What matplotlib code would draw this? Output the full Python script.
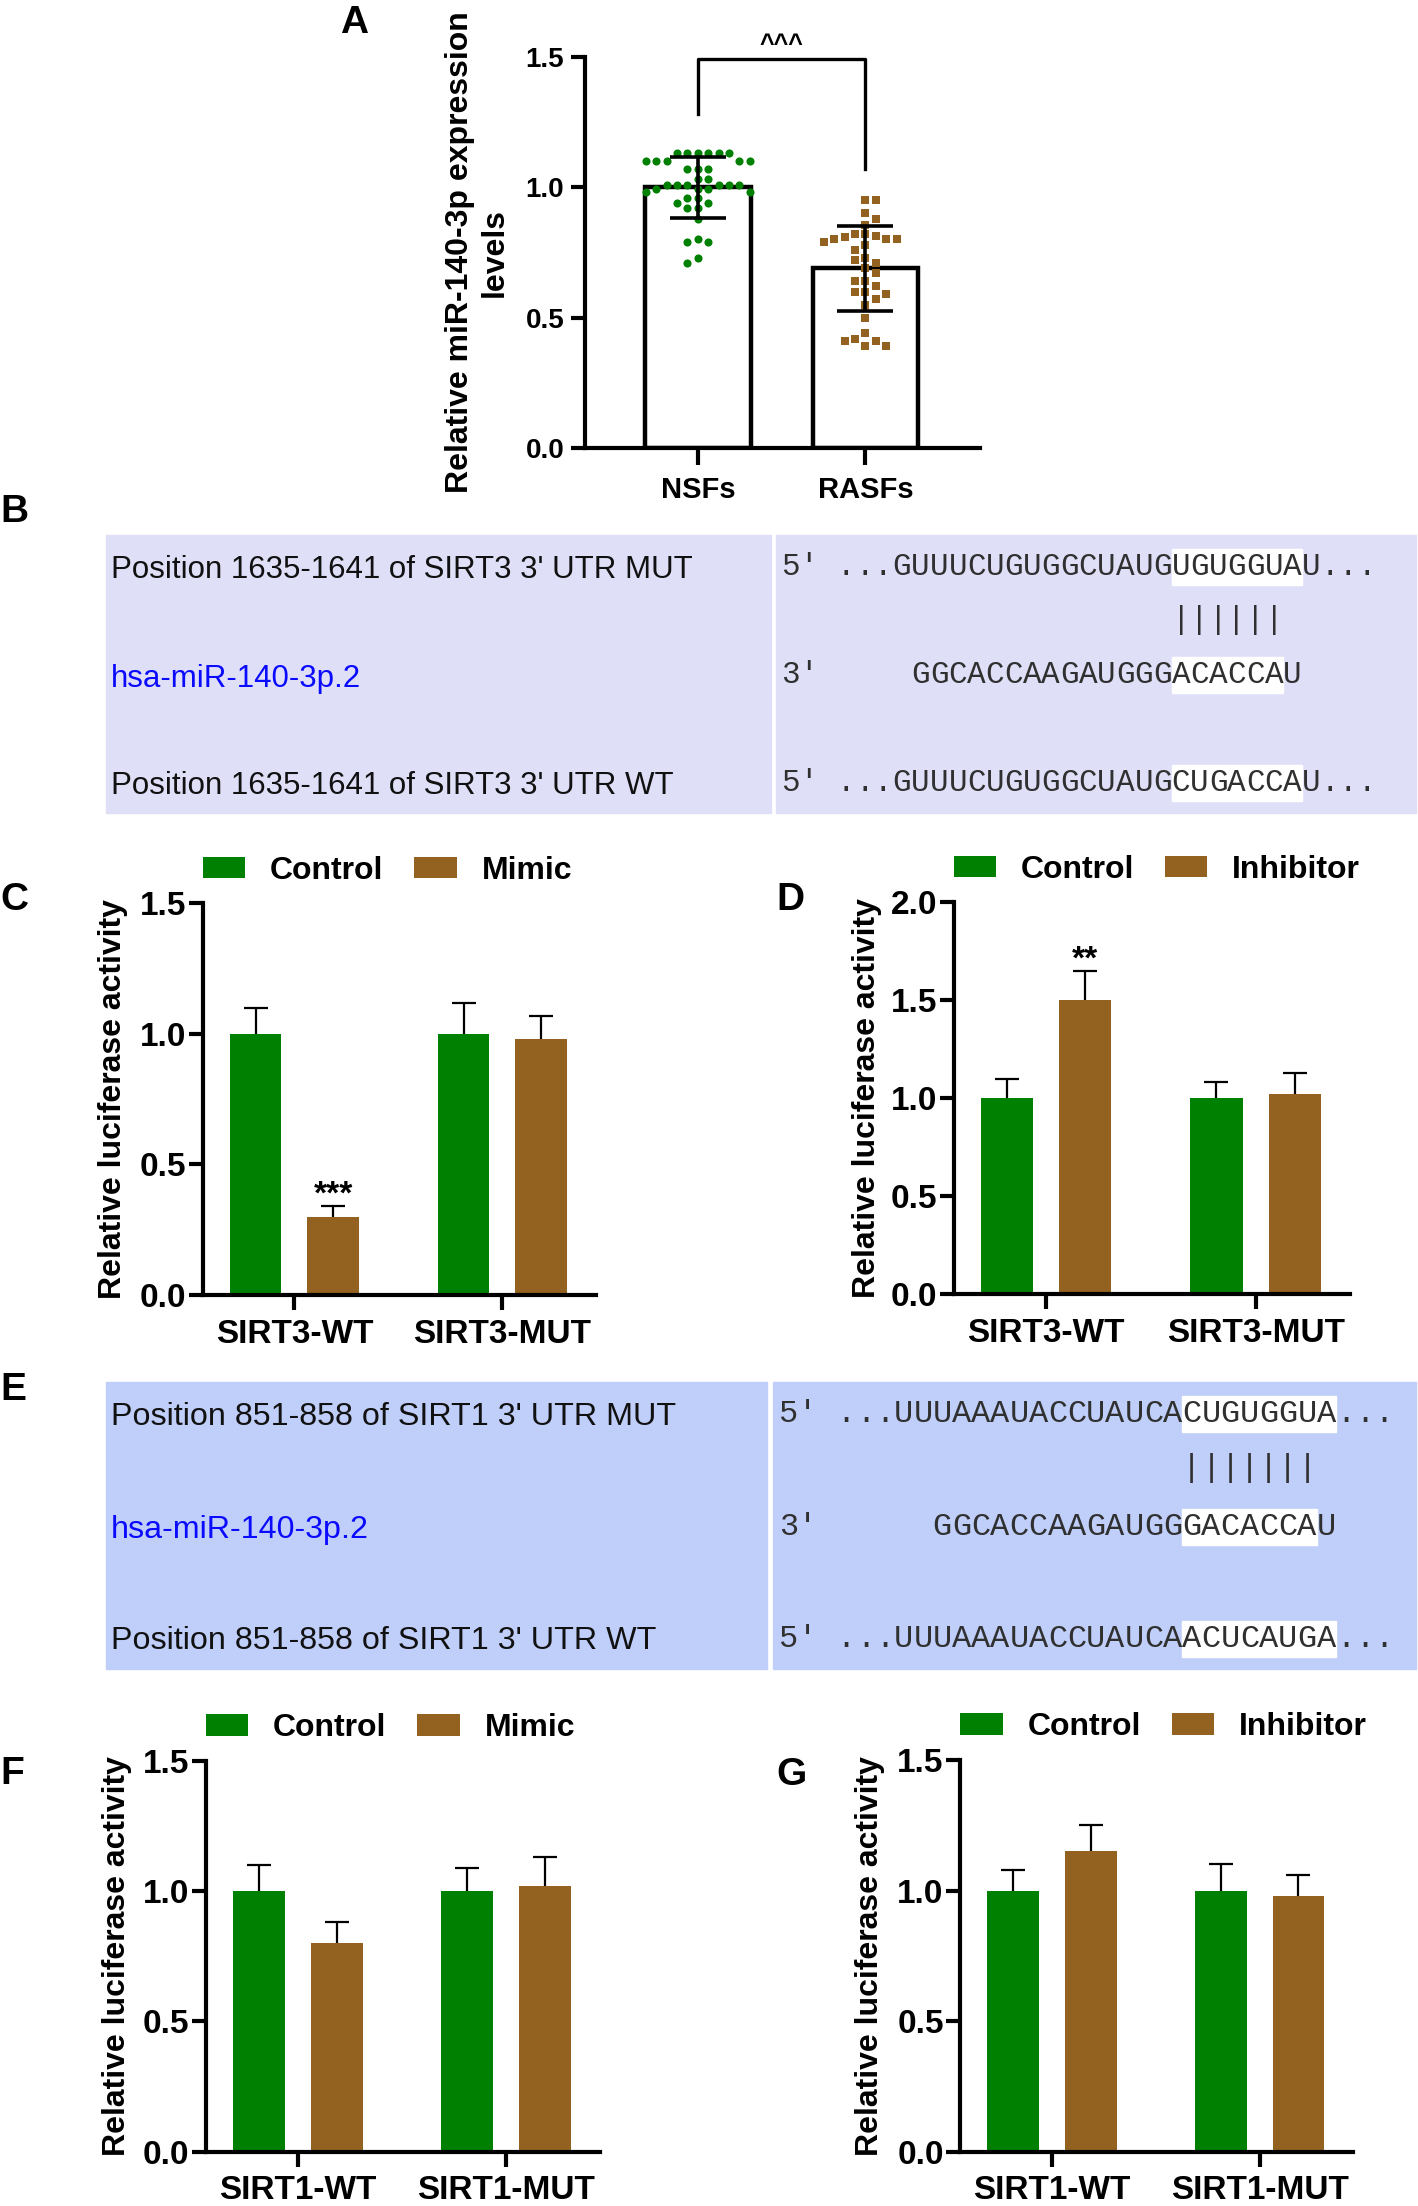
import numpy as np
import matplotlib
matplotlib.use("Agg")
import matplotlib.pyplot as plt
from matplotlib.patches import Rectangle, Patch
from matplotlib.ticker import FormatStrFormatter, MultipleLocator

plt.rcParams["font.family"] = ["Liberation Sans", "DejaVu Sans"]
plt.rcParams["font.weight"] = "bold"
plt.rcParams["axes.labelweight"] = "bold"

W, H = 1418, 2206
GREEN = "#008000"
BROWN = "#946220"

# ---------------- data ----------------
# A: miR-140-3p expression
a_groups = ["NSFs", "RASFs"]
a_mean = [1.00, 0.69]
a_sd = [0.117, 0.163]
nsf_vals = [1.13, 1.13, 1.13, 1.13, 1.13, 1.13, 1.10, 1.10, 1.10, 1.10, 1.10,
            1.07, 1.07, 1.07, 1.03, 1.03, 1.01, 1.01, 1.01, 1.01, 1.01, 1.01,
            0.995, 0.995, 0.995, 0.98, 0.98, 0.96, 0.96, 0.94, 0.94, 0.92, 0.92,
            0.88, 0.80, 0.79, 0.79, 0.73, 0.71]
rasf_vals = [0.95, 0.95, 0.90, 0.88, 0.855, 0.82, 0.82, 0.815, 0.81, 0.80, 0.80,
             0.80, 0.79, 0.78, 0.76, 0.73, 0.72, 0.71, 0.69, 0.67, 0.64, 0.64,
             0.62, 0.60, 0.60, 0.59, 0.57, 0.55, 0.50, 0.44, 0.42, 0.41, 0.41,
             0.39, 0.39]
a_bracket = [1.49, 1.28, 1.07]   # top, left leg end, right leg end
a_sig = "^^^"

# C / D: SIRT3 luciferase
sirt3_groups = ["SIRT3-WT", "SIRT3-MUT"]
c_ctrl, c_ctrl_err = [1.00, 1.00], [0.10, 0.12]
c_mimic, c_mimic_err = [0.30, 0.98], [0.04, 0.09]
c_stars = ["***", ""]
d_ctrl, d_ctrl_err = [1.00, 1.00], [0.10, 0.08]
d_inh, d_inh_err = [1.50, 1.02], [0.15, 0.11]
d_stars = ["**", ""]

# F / G: SIRT1 luciferase
sirt1_groups = ["SIRT1-WT", "SIRT1-MUT"]
f_ctrl, f_ctrl_err = [1.00, 1.00], [0.10, 0.09]
f_mimic, f_mimic_err = [0.80, 1.02], [0.08, 0.11]
g_ctrl, g_ctrl_err = [1.00, 1.00], [0.08, 0.10]
g_inh, g_inh_err = [1.15, 0.98], [0.10, 0.08]
no_stars = ["", ""]

# B / E: binding sites
b_labels = ["Position 1635-1641 of SIRT3 3' UTR MUT", "hsa-miR-140-3p.2",
            "Position 1635-1641 of SIRT3 3' UTR WT"]
b_seqs = ["5' ...GUUUCUGUGGCUAUGUGUGGUAU...", " " * 21 + "||||||",
          "3'     GGCACCAAGAUGGGACACCAU", "5' ...GUUUCUGUGGCUAUGCUGACCAU..."]
b_marks = [(21, 28), None, (21, 27), (21, 28)]
e_labels = ["Position 851-858 of SIRT1 3' UTR MUT", "hsa-miR-140-3p.2",
            "Position 851-858 of SIRT1 3' UTR WT"]
e_seqs = ["5' ...UUUAAAUACCUAUCACUGUGGUA...", " " * 21 + "|||||||",
          "3'      GGCACCAAGAUGGGACACCAU", "5' ...UUUAAAUACCUAUCAACUCAUGA..."]
e_marks = [(21, 29), None, (21, 28), (21, 29)]

# ---------------- helpers ----------------
fig = plt.figure(figsize=(W / 100, H / 100), dpi=100)
fig.patch.set_facecolor("white")

cv = fig.add_axes([0, 0, 1, 1], zorder=0)
cv.set_xlim(0, W)
cv.set_ylim(H, 0)
cv.axis("off")


def px_axes(x0, y0, x1, y1):
    return fig.add_axes([x0 / W, 1 - y1 / H, (x1 - x0) / W, (y1 - y0) / H], zorder=2)


def style_axes(ax, ytop, fs, xlim):
    for s in ("top", "right"):
        ax.spines[s].set_visible(False)
    for s in ("left", "bottom"):
        ax.spines[s].set_linewidth(3)
    ax.set_xlim(*xlim)
    ax.set_ylim(0, ytop)
    ax.yaxis.set_major_locator(MultipleLocator(0.5))
    ax.yaxis.set_major_formatter(FormatStrFormatter("%.1f"))
    ax.tick_params(axis="y", length=10, width=3, pad=2, labelsize=fs)
    ax.tick_params(axis="x", length=11, width=3, pad=6, labelsize=fs)
    ax.patch.set_alpha(0)


def swarm_offsets(ax, vals, step_px=10.4, min_px=8.0):
    t = ax.transData
    py_unit = t.transform((0, 1))[1] - t.transform((0, 0))[1]
    px_unit = t.transform((1, 0))[0] - t.transform((0, 0))[0]
    placed, offs = [], []
    for i, v in enumerate(vals):
        y = v * py_unit
        sgn = 1 if i % 2 else -1
        order = [0] + [s * k for k in range(1, 15) for s in (sgn, -sgn)]
        for k in order:
            x = k * step_px
            if all((x - qx) ** 2 + (y - qy) ** 2 >= min_px ** 2 for qx, qy in placed):
                break
        placed.append((x, y))
        offs.append(x / px_unit)
    return np.array(offs)


def luciferase(ax, groups, ctrl, ctrl_err, trt, trt_err, stars, trt_name, ytop):
    x = np.arange(len(groups))
    off, w = 0.187, 0.249
    ax.bar(x - off, ctrl, w, color=GREEN, zorder=2, label="Control")
    ax.bar(x + off, trt, w, color=BROWN, zorder=2, label=trt_name)
    for xs, m, e in ((x - off, ctrl, ctrl_err), (x + off, trt, trt_err)):
        eb = ax.errorbar(xs, m, yerr=[np.zeros(len(m)), e], fmt="none", ecolor="black",
                         elinewidth=1.6, capsize=8.5, capthick=1.6, zorder=1)
        # only the upper cap, like a one-sided error bar
        for cl in eb[1]:
            if np.allclose(cl.get_ydata(), m):
                cl.set_visible(False)
    for xi, m, e, s in zip(x + off, trt, trt_err, stars):
        if s:
            ax.annotate(s, (xi, m + e), xytext=(0, 2), textcoords="offset points",
                        ha="center", va="baseline", fontsize=24, fontweight="bold")
    ax.set_xticks(x)
    ax.set_xticklabels(groups)
    style_axes(ax, ytop, 24, (-0.44, 1.45))
    handles = [Patch(facecolor=GREEN, label="Control"), Patch(facecolor=BROWN, label=trt_name)]
    ax.legend(handles=handles, ncol=2, loc="lower left", bbox_to_anchor=(0.0, 1.045),
              frameon=False, prop={"size": 23, "weight": "bold"}, handlelength=1.32,
              handleheight=0.66, handletextpad=0.78, columnspacing=0.97,
              borderpad=0, borderaxespad=0)
    ax.set_ylabel("Relative luciferase activity", fontsize=23, va="center")


def site_panel(top, bottom, split, bg, labels, label_base, seqs, seq_base, marks,
               cw, origin, mono_fs, text_fs):
    cv.add_patch(Rectangle((106, top), split[0] - 106, bottom - top, color=bg, zorder=0))
    cv.add_patch(Rectangle((split[1], top), 1416 - split[1], bottom - top, color=bg, zorder=0))
    for txt, yb, col in zip(labels, label_base, ["#111111", "#0a0aff", "#111111"]):
        cv.text(111, yb, txt, fontsize=text_fs, fontweight="normal", color=col,
                ha="left", va="baseline")
    for s, yb, mk in zip(seqs, seq_base, marks):
        if mk:
            cv.add_patch(Rectangle((origin + mk[0] * cw, yb - 26), (mk[1] - mk[0]) * cw, 36,
                                   color="white", zorder=1))
        for i, ch in enumerate(s):
            if ch != " ":
                cv.text(origin + (i + 0.5) * cw, yb, ch, fontsize=mono_fs, color="#303030",
                        family="Liberation Mono", fontweight="normal", ha="center",
                        va="center" if ch == "|" else "baseline", zorder=2)


# ---------------- panel A ----------------
axA = px_axes(585, 56.7, 979.5, 448.3)
style_axes(axA, 1.5, 20, (-0.673, 1.68))
axA.tick_params(axis="x", length=12, pad=8, labelsize=21)
axA.tick_params(axis="y", length=10, pad=5)
xa = np.arange(2)
axA.bar(xa, a_mean, 0.63, facecolor="white", edgecolor="black", linewidth=3.2, zorder=1)
axA.scatter(0 + swarm_offsets(axA, nsf_vals), nsf_vals, s=34, color=GREEN,
            marker="o", linewidths=0, zorder=2)
axA.scatter(1 + swarm_offsets(axA, rasf_vals), rasf_vals, s=30, color=BROWN,
            marker="s", linewidths=0, zorder=2)
axA.errorbar(xa, a_mean, yerr=a_sd, fmt="none", ecolor="black", elinewidth=2.6,
             capsize=20, capthick=2.6, zorder=3)
axA.plot([0, 0, 1, 1], [a_bracket[1], a_bracket[0], a_bracket[0], a_bracket[2]],
         color="black", lw=2.4, clip_on=False)
axA.annotate(a_sig, (0.5, a_bracket[0]), xytext=(0, 5), textcoords="offset points",
             ha="center", va="baseline", fontsize=18, fontweight="bold")
axA.set_xticks(xa)
axA.set_xticklabels(a_groups)
axA.set_ylabel("Relative miR-140-3p expression\nlevels", fontsize=23, va="center")
axA.yaxis.set_label_coords(-0.273, 0.5)

# ---------------- panels C, D, F, G ----------------
axC = px_axes(203, 903.3, 596, 1295)
luciferase(axC, sirt3_groups, c_ctrl, c_ctrl_err, c_mimic, c_mimic_err, c_stars, "Mimic", 1.5)
axC.yaxis.set_label_coords(-0.229, 0.5)

axD = px_axes(953.7, 902.3, 1350, 1294)
luciferase(axD, sirt3_groups, d_ctrl, d_ctrl_err, d_inh, d_inh_err, d_stars, "Inhibitor", 2.0)
axD.yaxis.set_label_coords(-0.219, 0.5)

axF = px_axes(206, 1760.7, 600, 2151.7)
luciferase(axF, sirt1_groups, f_ctrl, f_ctrl_err, f_mimic, f_mimic_err, no_stars, "Mimic", 1.5)
axF.yaxis.set_label_coords(-0.226, 0.5)

axG = px_axes(960.4, 1760, 1353, 2151.7)
luciferase(axG, sirt1_groups, g_ctrl, g_ctrl_err, g_inh, g_inh_err, no_stars, "Inhibitor", 1.5)
axG.yaxis.set_label_coords(-0.23, 0.5)

# ---------------- panels B, E ----------------
site_panel(535, 813, (771, 776), "#dfe0f8", b_labels, [578, 687, 794],
           b_seqs, [575, 620, 683, 791], b_marks, 18.6, 781, 22.3, 22.5)
site_panel(1382, 1669, (767, 773), "#c0cffa", e_labels, [1425, 1538, 1649],
           e_seqs, [1422, 1468, 1535, 1647], e_marks, 19.2, 779, 23, 23.2)

# ---------------- panel letters ----------------
for letter, x, yb in [("A", 340, 33), ("B", 0, 522), ("C", 0, 910), ("D", 776, 910),
                      ("E", 0, 1400), ("F", 0, 1784), ("G", 776, 1785)]:
    cv.text(x, yb, letter, fontsize=28, fontweight="bold", ha="left", va="baseline")

fig.savefig("out.png", dpi=100)
